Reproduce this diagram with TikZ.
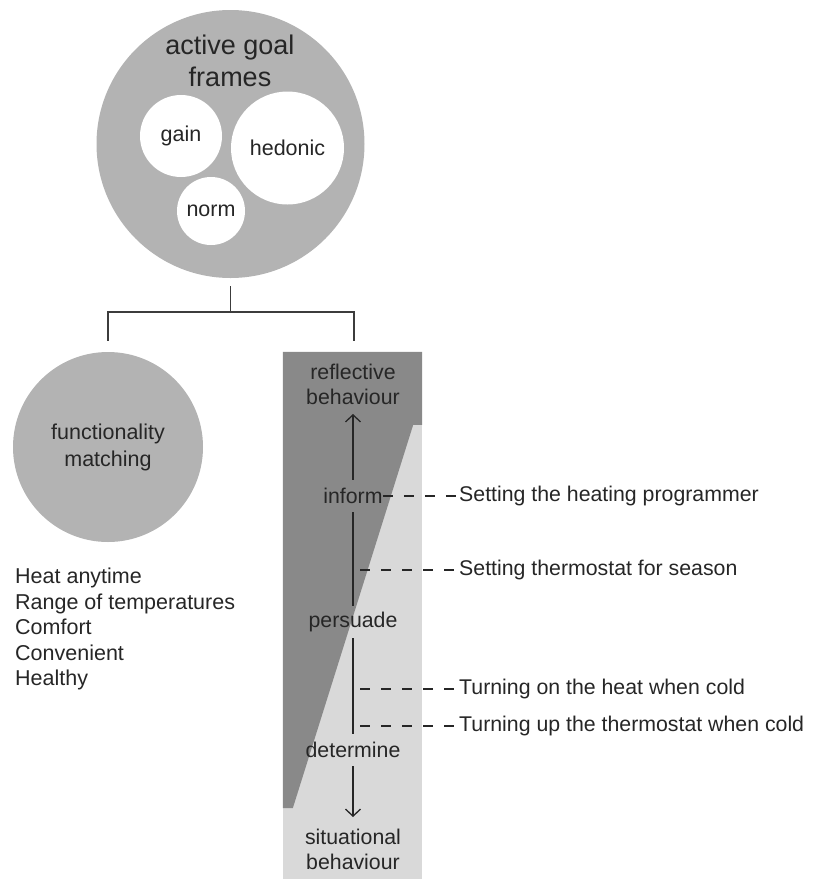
\documentclass[tikz,border=0pt]{standalone}
\usepackage{fontspec}
\setmainfont{Liberation Sans}
\usetikzlibrary{arrows.meta,positioning}
\definecolor{ink}{HTML}{262626}
\definecolor{goalgrey}{HTML}{B3B3B3}
\definecolor{deepgrey}{HTML}{898989}
\definecolor{pale}{HTML}{D9D9D9}
\tikzset{
  disc/.style  = {circle, fill=goalgrey, inner sep=0pt, text=ink, align=center},
  hole/.style  = {circle, fill=white, inner sep=0pt, text=ink, font=\fontsize{21.5}{25}\selectfont},
  tx/.style    = {text=ink, align=center, inner sep=0pt, font=\fontsize{21.3}{25}\selectfont},
  mode/.style  = {tx, minimum height=32pt},
  act/.style   = {tx, anchor=west, inner sep=2pt},
  fl/.style    = {-{Straight Barb[length=7pt,width=15pt]}, line width=1.3pt, draw=ink},
  ln/.style    = {line width=1.3pt, draw=ink},
  tie/.style   = {line width=1.3pt, draw=ink, dash pattern=on 10pt off 11pt},
  forkline/.style = {line width=1.5pt, draw=ink!90},
}

\begin{document}
\begin{tikzpicture}[x=1pt,y=-1pt]
\useasboundingbox (0,0) rectangle (817,879);
% goal frames
\node[disc, minimum size=268pt] (goals) at (230.5,144) {};
\node[tx, font=\fontsize{27}{32}\selectfont] (title) at (230,61) {active goal\\frames};
\node[hole, minimum size=82pt] (gain) at (181,136) {gain};
\node[hole, minimum size=113pt] (hed) at (287.5,148) {hedonic};
\node[hole, minimum size=68pt] (norm) at (211,211) {norm};
% functionality
\node[disc, minimum size=190pt, font=\fontsize{21.5}{27}\selectfont] (func) at (108,447) {functionality\\matching};
\node[tx, align=left, anchor=west, font=\fontsize{21.5}{25.5}\selectfont] (needs) at (15,629)
  {Heat anytime\\Range of temperatures\\Comfort\\Convenient\\Healthy};
% behaviour bar
\node[rectangle, fill=pale, minimum width=139pt, minimum height=527pt, inner sep=0pt] (bar) at (352.5,615.5) {};
\fill[deepgrey] (bar.north west) -- (bar.north east) -- ([yshift=-73pt]bar.north east) -- ++(-9,0)
  -- ([xshift=10pt,yshift=71pt]bar.south west) -- ([yshift=71pt]bar.south west) -- cycle;
\node[tx] (refl) at (353,384) {reflective\\behaviour};
\node[mode] (inform) at (353,496) {inform};
\node[mode] (pers) at (353,622) {persuade};
\node[mode] (det) at (353,750) {determine};
\node[tx] (sit) at (353,849) {situational\\behaviour};
\coordinate (up) at (353,414);
\coordinate (down) at (353,817);
% behaviours
\node[act] (a1) at (457,496) {Setting the heating programmer};
\node[act] (a2) at (457,570) {Setting thermostat for season};
\node[act] (a3) at (457,689) {Turning on the heat when cold};
\node[act] (a4) at (457,726) {Turning up the thermostat when cold};
\coordinate (s2) at (360,570);
\coordinate (s3) at (360,689);
\coordinate (s4) at (360,726);
% edges
\coordinate (fork) at (230.5,312);
\draw[forkline] ([yshift=-8pt]goals.south) -- (fork);
\draw[forkline] ([yshift=11pt]func.north) |- (fork) -| ([xshift=1.5pt,yshift=11pt]bar.north);
\draw[fl] (inform) -- (up);
\draw[ln] (inform) -- (pers);
\draw[ln] (pers) -- (det);
\draw[fl] (det) -- (down);
\draw[tie] (inform) -- (a1);
\draw[tie] (s2) -- (a2);
\draw[tie] (s3) -- (a3);
\draw[tie] (s4) -- (a4);
\end{tikzpicture}
\end{document}
